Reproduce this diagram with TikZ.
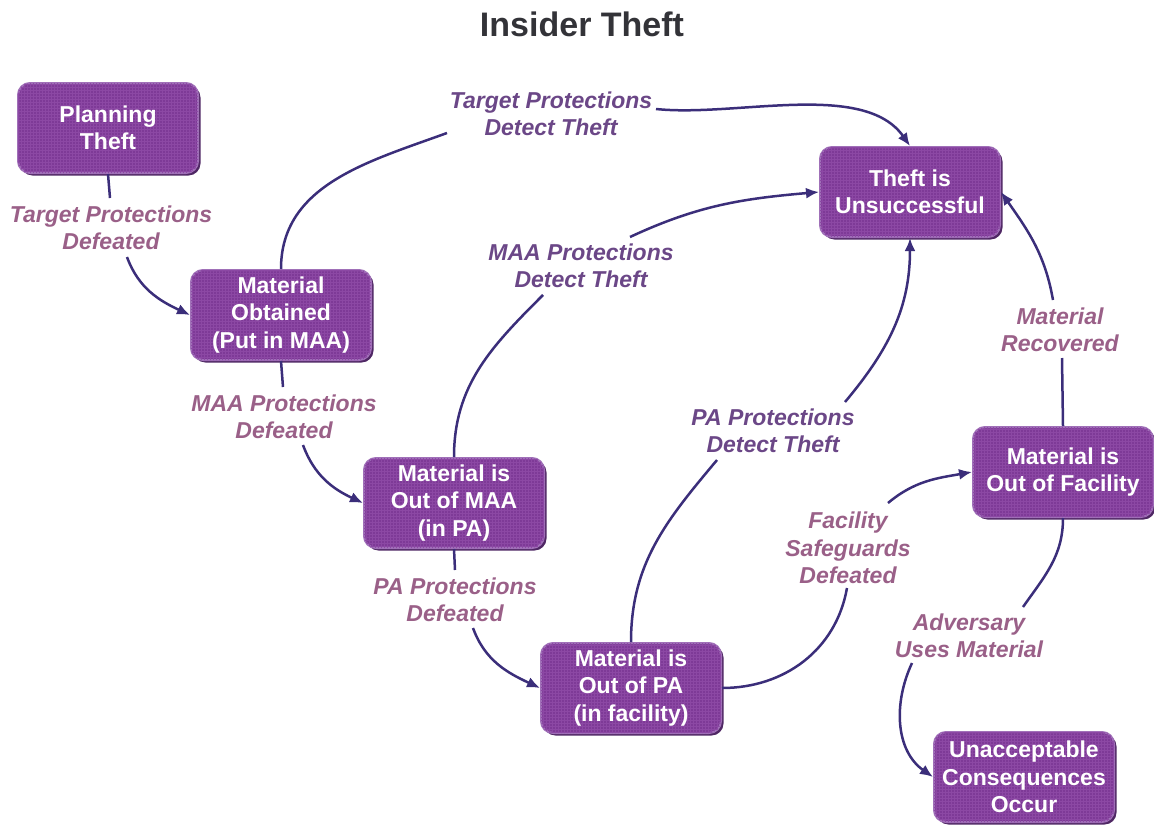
\documentclass[tikz,border=0pt]{standalone}
\usepackage{fontspec}
\setmainfont{Liberation Sans}
\usetikzlibrary{arrows.meta,shadows,patterns}

\definecolor{boxfill}{HTML}{7E3A97}
\definecolor{boxedge}{HTML}{A070B8}
\definecolor{boxshade}{HTML}{4F2764}
\definecolor{boxgrain}{HTML}{8C48A4}
\definecolor{wire}{HTML}{3B2E7A}
\definecolor{lossink}{HTML}{9A6088}
\definecolor{detectink}{HTML}{6B4787}
\definecolor{titleink}{HTML}{333338}

\begin{document}
\begin{tikzpicture}[x=1pt,y=1pt,
  state/.style={rounded corners=12pt, fill=boxfill, draw=boxedge, line width=2pt,
    minimum width=180pt, minimum height=90pt, align=center, text=white,
    font=\fontsize{23}{27.5}\selectfont\bfseries,
    drop shadow={shadow xshift=2.5pt, shadow yshift=-2.5pt, fill=boxshade, opacity=1},
    postaction={pattern=grid, pattern color=boxgrain}},
  lbl/.style={align=center, inner sep=0pt, font=\fontsize{23}{27.5}\selectfont\bfseries\itshape},
  loss/.style={lbl, text=lossink},
  detect/.style={lbl, text=detectink},
  wire/.style={draw=wire, line width=2.5pt},
  tip/.style={wire, -{Latex[length=13pt,width=11pt]}}
]
\useasboundingbox (0,0) rectangle (1154,-825);

% title
\node[font=\fontsize{34}{40}\selectfont\bfseries, text=titleink] (title) at (582,-24) {Insider Theft};

% states of the theft
\node[state] (plan)  at (108,-128)  {Planning\\Theft};
\node[state] (obt)   at (281,-315)  {Material\\Obtained\\(Put in MAA)};
\node[state] (maa)   at (454,-503)  {Material is\\Out of MAA\\(in PA)};
\node[state] (pa)    at (631,-688)  {Material is\\Out of PA\\(in facility)};
\node[state] (uns)   at (910,-192)  {Theft is\\Unsuccessful};
\node[state] (fac)   at (1063,-472) {Material is\\Out of Facility};
\node[state] (unacc) at (1024,-777) {Unacceptable\\Consequences\\Occur};

% transition labels
\node[loss]   (l1) at (111,-228)  {Target Protections\\Defeated};
\node[loss]   (l2) at (284,-417)  {MAA Protections\\Defeated};
\node[loss]   (l3) at (455,-600)  {PA Protections\\Defeated};
\node[loss]   (l4) at (848,-548)  {Facility\\Safeguards\\Defeated};
\node[loss]   (l5) at (969,-636)  {Adversary\\Uses Material};
\node[loss]   (l6) at (1060,-330) {Material\\Recovered};
\node[detect] (l7) at (773,-431)  {PA Protections\\Detect Theft};
\node[detect] (l8) at (581,-266)  {MAA Protections\\Detect Theft};
\node[detect] (l9) at (551,-114)  {Target Protections\\Detect Theft};

% progress of the theft
\draw[wire] (plan.south) -- ([shift={(-1,30)}]l1.center);
\draw[tip] ([shift={(16,-29)}]l1.center) to[out=-70,in=155] (obt.west);
\draw[wire] (obt.south) -- ([shift={(-1,30)}]l2.center);
\draw[tip] ([shift={(19,-28)}]l2.center) to[out=-70,in=155] (maa.west);
\draw[wire] (maa.south) -- ([shift={(0,30)}]l3.center);
\draw[tip] ([shift={(18,-28)}]l3.center) to[out=-70,in=155] (pa.west);
\draw[wire] (pa.east) to[out=0,in=-100] ([shift={(-1,-40)}]l4.center);
\draw[tip] ([shift={(40,45)}]l4.center) to[out=40,in=190] (fac.west);
\draw[wire] (fac.south) to[out=-90,in=55] ([shift={(54,29)}]l5.center);
\draw[tip] ([shift={(-57,-27)}]l5.center) to[out=-115,in=145] (unacc.west);

% detection paths
\draw[wire] (fac.north) -- ([shift={(2,-28)}]l6.center);
\draw[tip] ([shift={(-7,30)}]l6.center) to[out=100,in=-55] (uns.east);
\draw[wire] (pa.north) to[out=90,in=230] ([shift={(-56,-29)}]l7.center);
\draw[tip] ([shift={(72,29)}]l7.center) to[out=50,in=-90] (uns.south);
\draw[wire] (maa.north) to[out=90,in=225] ([shift={(-38,-29)}]l8.center);
\draw[tip] ([shift={(49,29)}]l8.center) to[out=25,in=185] (uns.west);
\draw[wire] (obt.north) to[out=90,in=200] ([shift={(-104,-19)}]l9.center);
\draw[tip] ([shift={(105,5)}]l9.center) to[out=-6,in=125,looseness=0.8] (uns.north);
\end{tikzpicture}
\end{document}
